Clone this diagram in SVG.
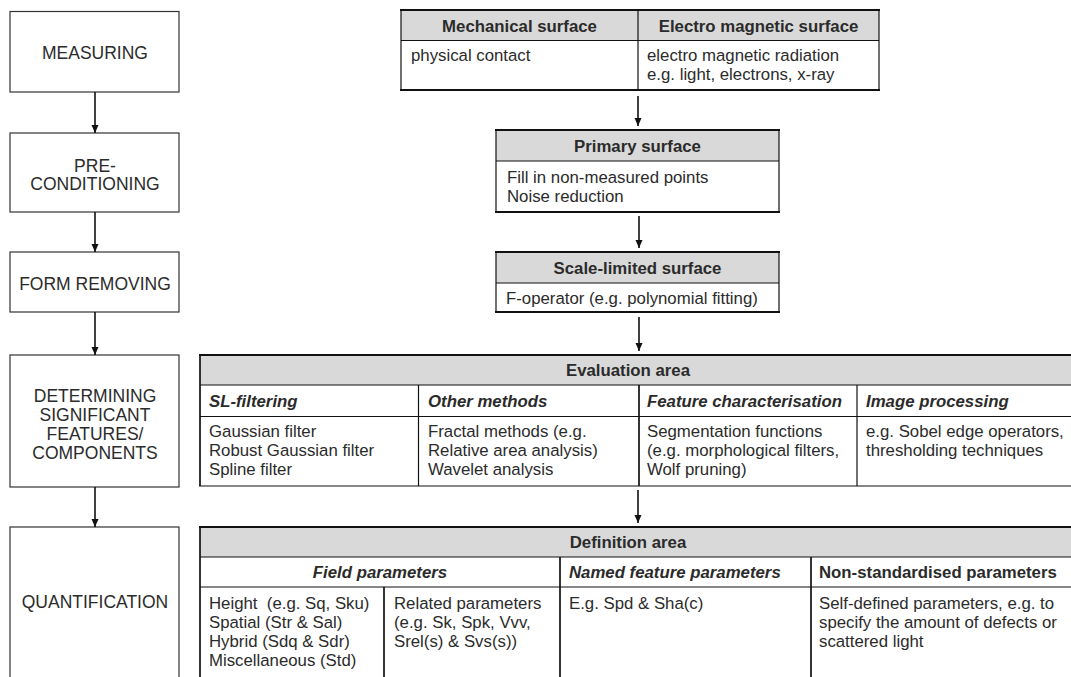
<svg xmlns="http://www.w3.org/2000/svg" width="1071" height="677" viewBox="0 0 1071 677">
<style>
.bg{fill:#ffffff}
.box{fill:#ffffff;stroke:#333333;stroke-width:1.2}
.hdr{fill:#d9d9d9;stroke:none}
.thin{stroke:#111111;stroke-width:1.2;fill:none}
.thick{stroke:#111111;stroke-width:2.2;fill:none}
.mid{stroke:#111111;stroke-width:1.7;fill:none}
.lbl{font-family:"Liberation Sans",Arial,sans-serif;font-size:17.5px;fill:#2b2b2b;text-anchor:middle}
.t{font-family:"Liberation Sans",Arial,sans-serif;font-size:16.8px;fill:#2b2b2b}
.b{font-weight:bold}
.bi{font-weight:bold;font-style:italic}
.c{text-anchor:middle}
.conn{stroke:#111111;stroke-width:1.6;fill:none}
</style>
<defs>
<marker id="ah" markerWidth="8" markerHeight="8" refX="8" refY="3.5" orient="auto" markerUnits="userSpaceOnUse">
<path d="M0,0 L8,3.5 L0,7 Z" fill="#111111"/>
</marker>
</defs>
<rect class="bg" x="0" y="0" width="1071" height="677"/>

<g id="measuring">
<rect class="box" x="10" y="11.5" width="169" height="80.5"/>
<text class="lbl" x="95" y="59">MEASURING</text>
</g>
<g id="preconditioning">
<rect class="box" x="10" y="133" width="169" height="79"/>
<text class="lbl" x="95" y="172">PRE-</text>
<text class="lbl" x="95" y="190">CONDITIONING</text>
</g>
<g id="formremoving">
<rect class="box" x="10" y="252" width="169" height="60"/>
<text class="lbl" x="95" y="290">FORM REMOVING</text>
</g>
<g id="determining">
<rect class="box" x="10" y="355" width="169" height="132"/>
<text class="lbl" x="95" y="402">DETERMINING</text>
<text class="lbl" x="95" y="421">SIGNIFICANT</text>
<text class="lbl" x="95" y="440">FEATURES/</text>
<text class="lbl" x="95" y="459">COMPONENTS</text>
</g>
<g id="quantification">
<rect class="box" x="10" y="527" width="169" height="170"/>
<text class="lbl" x="95" y="608">QUANTIFICATION</text>
</g>

<g id="surface-types">
<rect class="hdr" x="401" y="10" width="478" height="30.5"/>
<line class="thin" x1="401" y1="40.5" x2="879" y2="40.5"/>
<line class="thin" x1="401" y1="10" x2="401" y2="90"/>
<line class="thin" x1="638" y1="10" x2="638" y2="90"/>
<line class="thin" x1="879" y1="10" x2="879" y2="90"/>
<line class="thick" x1="400" y1="10" x2="880" y2="10"/>
<line class="thick" x1="400" y1="90" x2="880" y2="90"/>
<text class="t b c" x="519.5" y="32">Mechanical surface</text>
<text class="t b c" x="758.5" y="32">Electro magnetic surface</text>
<text class="t" x="411" y="61">physical contact</text>
<text class="t" x="647" y="61">electro magnetic radiation</text>
<text class="t" x="647" y="80">e.g. light, electrons, x-ray</text>
</g>

<g id="primary-surface">
<rect class="hdr" x="496" y="130" width="283" height="31"/>
<line class="thin" x1="496" y1="161" x2="779" y2="161"/>
<line class="thin" x1="496" y1="130" x2="496" y2="212"/>
<line class="thin" x1="779" y1="130" x2="779" y2="212"/>
<line class="thick" x1="495" y1="130" x2="780" y2="130"/>
<line class="thick" x1="495" y1="212" x2="780" y2="212"/>
<text class="t b c" x="637.5" y="152">Primary surface</text>
<text class="t" x="507" y="183">Fill in non-measured points</text>
<text class="t" x="507" y="202">Noise reduction</text>
</g>

<g id="scale-limited-surface">
<rect class="hdr" x="496" y="252" width="283" height="31"/>
<line class="thin" x1="496" y1="283" x2="779" y2="283"/>
<line class="thin" x1="496" y1="252" x2="496" y2="312"/>
<line class="thin" x1="779" y1="252" x2="779" y2="312"/>
<line class="thick" x1="495" y1="252" x2="780" y2="252"/>
<line class="thick" x1="495" y1="312" x2="780" y2="312"/>
<text class="t b c" x="637.5" y="274">Scale-limited surface</text>
<text class="t" x="506" y="304">F-operator (e.g. polynomial fitting)</text>
</g>

<g id="evaluation-area">
<rect class="hdr" x="200" y="355" width="871" height="30"/>
<line class="thin" x1="200" y1="385" x2="1071" y2="385"/>
<line class="thin" x1="200" y1="416.5" x2="1071" y2="416.5"/>
<line class="mid" x1="200" y1="354" x2="200" y2="486"/>
<line class="thin" x1="418.5" y1="385" x2="418.5" y2="486"/>
<line class="mid" x1="639" y1="385" x2="639" y2="486"/>
<line class="thin" x1="857" y1="385" x2="857" y2="486"/>
<line class="thick" x1="199" y1="355" x2="1071" y2="355"/>
<line class="thin" x1="199" y1="486" x2="1071" y2="486"/>
<text class="t b c" x="628" y="376">Evaluation area</text>
<text class="t bi" x="209" y="407">SL-filtering</text>
<text class="t bi" x="428" y="407">Other methods</text>
<text class="t bi" x="647" y="407">Feature characterisation</text>
<text class="t bi" x="866" y="407">Image processing</text>
<text class="t" x="209" y="437">Gaussian filter</text>
<text class="t" x="209" y="456">Robust Gaussian filter</text>
<text class="t" x="209" y="475">Spline filter</text>
<text class="t" x="428" y="437">Fractal methods (e.g.</text>
<text class="t" x="428" y="456">Relative area analysis)</text>
<text class="t" x="428" y="475">Wavelet analysis</text>
<text class="t" x="647" y="437">Segmentation functions</text>
<text class="t" x="647" y="456">(e.g. morphological filters,</text>
<text class="t" x="647" y="475">Wolf pruning)</text>
<text class="t" x="866" y="437">e.g. Sobel edge operators,</text>
<text class="t" x="866" y="456">thresholding techniques</text>
</g>

<g id="definition-area">
<rect class="hdr" x="200" y="527" width="871" height="30"/>
<line class="thin" x1="200" y1="557" x2="1071" y2="557"/>
<line class="thin" x1="200" y1="587" x2="1071" y2="587"/>
<line class="mid" x1="200" y1="526" x2="200" y2="677"/>
<line class="mid" x1="384" y1="587" x2="384" y2="677"/>
<line class="mid" x1="560" y1="557" x2="560" y2="677"/>
<line class="mid" x1="811" y1="557" x2="811" y2="677"/>
<line class="thick" x1="199" y1="527" x2="1071" y2="527"/>
<text class="t b c" x="628" y="548">Definition area</text>
<text class="t bi c" x="380" y="578">Field parameters</text>
<text class="t bi" x="569" y="578">Named feature parameters</text>
<text class="t b" x="819" y="578">Non-standardised parameters</text>
<text class="t" x="209" y="609">Height&#160; (e.g. Sq, Sku)</text>
<text class="t" x="209" y="628">Spatial (Str &amp; Sal)</text>
<text class="t" x="209" y="647">Hybrid (Sdq &amp; Sdr)</text>
<text class="t" x="209" y="666">Miscellaneous (Std)</text>
<text class="t" x="394" y="609">Related parameters</text>
<text class="t" x="394" y="628">(e.g. Sk, Spk, Vvv,</text>
<text class="t" x="394" y="647">Srel(s) &amp; Svs(s))</text>
<text class="t" x="569" y="609">E.g. Spd &amp; Sha(c)</text>
<text class="t" x="819" y="609">Self-defined parameters, e.g. to</text>
<text class="t" x="819" y="628">specify the amount of defects or</text>
<text class="t" x="819" y="647">scattered light</text>
</g>

<g id="connectors">
<line class="conn" x1="95" y1="92" x2="95" y2="133" marker-end="url(#ah)"/>
<line class="conn" x1="95" y1="212" x2="95" y2="252" marker-end="url(#ah)"/>
<line class="conn" x1="95" y1="312" x2="95" y2="355" marker-end="url(#ah)"/>
<line class="conn" x1="95" y1="487" x2="95" y2="527" marker-end="url(#ah)"/>
<line class="conn" x1="638" y1="96" x2="638" y2="126" marker-end="url(#ah)"/>
<line class="conn" x1="639" y1="216" x2="639" y2="248" marker-end="url(#ah)"/>
<line class="conn" x1="639" y1="317" x2="639" y2="351" marker-end="url(#ah)"/>
<line class="conn" x1="638" y1="490" x2="638" y2="523" marker-end="url(#ah)"/>
</g>
</svg>
